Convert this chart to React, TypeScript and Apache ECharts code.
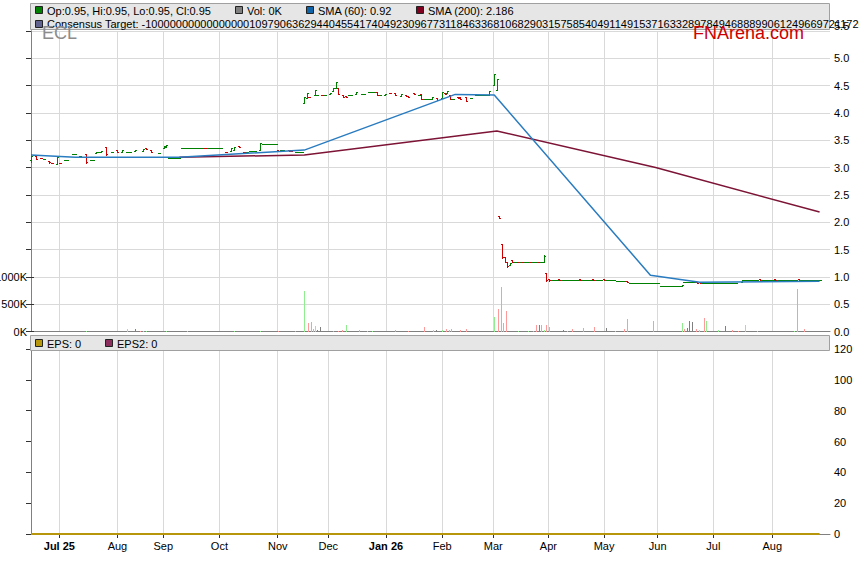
import React, { useEffect, useRef } from "react";
import * as echarts from "echarts";

const FONT = '"Liberation Sans", Arial, Helvetica, sans-serif';
const UP = "#008000";
const DOWN = "#d00000";
const GRID = "#d9d9d9";
const AXIS = "#808080";

// x positions are day indices along the chart (0 = first bar)
const X_MAX = 307;
const monthTickIdx = [10.9, 33.2, 50.8, 72.4, 94.8, 114.2, 136.4, 158.0, 177.6, 198.8, 220.2, 240.8, 262.2, 284.8];
const monthLabels = ["Jul 25", "Aug", "Sep", "Oct", "Nov", "Dec", "Jan 26", "Feb", "Mar", "Apr", "May", "Jun", "Jul", "Aug"];

const priceMax = 5.5;
const priceStep = 0.5;
const volTicksK = [0, 500, 1000];
const volMaxK = 5500;
const epsMax = 120;
const epsStep = 20;

// [dayIndex, open, close, low, high]
const priceBars: number[][] = [
  [0, 3.13, 3.22, 3.11, 3.24], [1, 3.23, 3.23, 3.23, 3.23], [2, 3.21, 3.16, 3.15, 3.21],
  [4, 3.18, 3.17, 3.17, 3.18], [5, 3.15, 3.15, 3.15, 3.15], [7, 3.12, 3.1, 3.09, 3.12],
  [8, 3.09, 3.08, 3.08, 3.09], [10, 3.07, 3.19, 3.06, 3.19], [11, 3.09, 3.08, 3.08, 3.09],
  [13, 3.13, 3.13, 3.13, 3.13], [14, 3.13, 3.13, 3.13, 3.13], [16, 3.24, 3.24, 3.24, 3.24],
  [17, 3.24, 3.24, 3.24, 3.24], [19, 3.21, 3.21, 3.21, 3.21], [21, 3.24, 3.1, 3.08, 3.24],
  [23, 3.14, 3.14, 3.14, 3.14], [24, 3.14, 3.14, 3.14, 3.14], [25, 3.27, 3.28, 3.27, 3.28],
  [26, 3.28, 3.28, 3.28, 3.28], [27, 3.28, 3.31, 3.28, 3.31], [29, 3.37, 3.24, 3.23, 3.37],
  [31, 3.28, 3.28, 3.28, 3.28], [33, 3.32, 3.28, 3.28, 3.32], [35, 3.28, 3.32, 3.28, 3.32],
  [37, 3.29, 3.29, 3.29, 3.29], [38, 3.29, 3.29, 3.29, 3.29], [40, 3.3, 3.32, 3.3, 3.32],
  [43, 3.31, 3.34, 3.31, 3.34], [44, 3.36, 3.34, 3.34, 3.36], [46, 3.33, 3.29, 3.29, 3.33],
  [49, 3.26, 3.26, 3.26, 3.26], [51, 3.36, 3.39, 3.36, 3.39], [52, 3.38, 3.41, 3.38, 3.41],
  [67, 3.36, 3.35, 3.35, 3.36], [75, 3.29, 3.28, 3.28, 3.29], [77, 3.3, 3.35, 3.3, 3.35],
  [78, 3.33, 3.37, 3.33, 3.37], [80, 3.39, 3.38, 3.38, 3.39], [82, 3.29, 3.28, 3.28, 3.29],
  [83, 3.28, 3.28, 3.28, 3.28], [88, 3.32, 3.45, 3.32, 3.45], [95, 3.33, 3.31, 3.31, 3.33],
  [99, 3.33, 3.3, 3.3, 3.33], [100, 3.32, 3.31, 3.31, 3.32],
  [105, 4.18, 4.29, 4.18, 4.29], [106, 4.27, 4.36, 4.27, 4.36], [107, 4.3, 4.29, 4.29, 4.3],
  [109, 4.33, 4.42, 4.33, 4.42], [110, 4.32, 4.32, 4.32, 4.32], [112, 4.33, 4.32, 4.32, 4.33],
  [113, 4.32, 4.32, 4.32, 4.32], [115, 4.34, 4.37, 4.34, 4.37], [116, 4.4, 4.45, 4.4, 4.45],
  [117, 4.45, 4.56, 4.45, 4.56], [118, 4.45, 4.34, 4.34, 4.45], [120, 4.32, 4.3, 4.3, 4.32],
  [121, 4.31, 4.3, 4.3, 4.31], [125, 4.35, 4.38, 4.35, 4.38], [127, 4.35, 4.35, 4.35, 4.35],
  [128, 4.35, 4.35, 4.35, 4.35], [133, 4.38, 4.33, 4.33, 4.38], [134, 4.33, 4.33, 4.33, 4.33],
  [136, 4.33, 4.35, 4.33, 4.35], [138, 4.37, 4.36, 4.36, 4.37], [140, 4.36, 4.33, 4.33, 4.36],
  [142, 4.31, 4.35, 4.31, 4.35], [144, 4.33, 4.31, 4.31, 4.33], [145, 4.31, 4.29, 4.29, 4.31],
  [147, 4.36, 4.35, 4.35, 4.36], [149, 4.33, 4.33, 4.33, 4.33], [150, 4.35, 4.25, 4.25, 4.35],
  [154, 4.25, 4.3, 4.25, 4.3], [156, 4.27, 4.23, 4.23, 4.27], [158, 4.28, 4.38, 4.27, 4.38],
  [159, 4.36, 4.35, 4.35, 4.36], [160, 4.36, 4.4, 4.36, 4.4], [161, 4.33, 4.25, 4.25, 4.33],
  [162, 4.25, 4.25, 4.25, 4.25], [164, 4.29, 4.28, 4.28, 4.29], [165, 4.3, 4.26, 4.26, 4.3],
  [167, 4.29, 4.22, 4.22, 4.29], [169, 4.27, 4.27, 4.27, 4.27], [176, 4.33, 4.4, 4.33, 4.4],
  [178, 4.51, 4.71, 4.51, 4.71], [179, 4.42, 4.62, 4.42, 4.62],
  [180, 2.11, 2.08, 2.08, 2.11], [181, 1.6, 1.36, 1.34, 1.6], [182, 1.36, 1.28, 1.27, 1.36],
  [183, 1.28, 1.2, 1.18, 1.28], [184, 1.22, 1.26, 1.22, 1.26], [185, 1.3, 1.28, 1.28, 1.3],
  [186, 1.27, 1.27, 1.27, 1.27], [187, 1.28, 1.27, 1.27, 1.28], [188, 1.27, 1.27, 1.27, 1.27],
  [189, 1.28, 1.27, 1.27, 1.28], [190, 1.27, 1.27, 1.27, 1.27], [191, 1.27, 1.27, 1.27, 1.27],
  [192, 1.28, 1.27, 1.27, 1.28], [193, 1.27, 1.27, 1.27, 1.27], [194, 1.27, 1.27, 1.27, 1.27],
  [195, 1.28, 1.27, 1.27, 1.28], [196, 1.27, 1.27, 1.27, 1.27], [197, 1.27, 1.39, 1.27, 1.4],
  [198, 1.07, 0.95, 0.92, 1.07], [199, 0.97, 0.94, 0.93, 0.97],
  [203, 0.96, 0.95, 0.95, 0.96], [211, 0.96, 0.95, 0.95, 0.96], [216, 0.96, 0.95, 0.95, 0.96],
  [220, 0.96, 0.95, 0.95, 0.96], [229, 0.93, 0.91, 0.91, 0.93], [250, 0.83, 0.86, 0.83, 0.86],
  [256, 0.9, 0.89, 0.89, 0.9], [257, 0.9, 0.89, 0.89, 0.9], [273, 0.9, 0.94, 0.9, 0.94],
  [280, 0.96, 0.95, 0.95, 0.96], [286, 0.96, 0.95, 0.95, 0.96], [295, 0.96, 0.95, 0.95, 0.96],
];

// stretches of unchanged price: [firstDay, lastDay, price]
const flatRuns: number[][] = [
  [53, 57, 3.17], [58, 66, 3.35], [68, 73, 3.35], [84, 86, 3.3], [89, 94, 3.43],
  [96, 97, 3.33], [102, 104, 3.29], [122, 123, 4.33], [130, 132, 4.39], [151, 153, 4.25],
  [171, 175, 4.33], [200, 202, 0.95], [204, 210, 0.95], [212, 215, 0.95], [217, 219, 0.95],
  [221, 224, 0.95], [225, 228, 0.93], [230, 241, 0.88], [242, 249, 0.83], [251, 255, 0.9],
  [258, 271, 0.89], [274, 279, 0.95], [281, 285, 0.95], [287, 294, 0.95], [296, 303, 0.95],
];

// [dayIndex, volume in K]
const volUp: number[][] = [
  [21, 15], [37, 50], [43, 15], [44, 15], [52, 15], [60, 15], [78, 15], [88, 15],
  [105, 750], [109, 100], [121, 110], [129, 15], [131, 15], [154.5, 30], [158, 30],
  [178, 257], [187, 10], [191, 10], [197, 20], [206, 10], [224.5, 10], [250, 160],
  [256.5, 20], [259.5, 200], [264, 30], [274.5, 110], [279, 10], [293, 10],
];
const volDown: number[][] = [
  [42, 15], [95, 15], [101.5, 15], [106.5, 150], [107.5, 180], [108.5, 40], [116, 15],
  [118, 15], [119.5, 30], [126, 30], [140, 30], [145, 15], [151, 90], [159.5, 40],
  [160.5, 30], [161.5, 40], [165, 20], [167, 40], [179.5, 420], [180.5, 810], [181.5, 160],
  [182.5, 370], [193, 15], [194, 110], [196, 110], [198, 110], [199, 80], [208, 50],
  [212, 60], [216.5, 80], [228, 50], [229, 220], [239, 190], [251, 50], [255.5, 50],
  [258.5, 250], [269.5, 30], [271.5, 15], [294.5, 770], [297, 40],
];
const volFlat: number[][] = [
  [38, 15], [40, 40], [110, 20], [111, 90], [115, 15], [124, 15], [139, 15], [155.5, 30],
  [188.5, 10], [195, 110], [203.5, 10], [204.5, 20], [217.5, 15], [221, 60], [240.5, 15],
  [247.5, 15], [252, 70], [253, 200], [254, 170], [261, 15], [266.5, 100], [267.5, 15],
  [276.5, 15], [277.5, 15], [283, 10],
];

// moving-average vertices [dayIndex, value]
const sma60: number[][] = [
  [0, 3.23], [17, 3.19], [57, 3.19], [105, 3.32], [163, 4.34], [178, 4.33], [238, 1.03], [257, 0.9], [303, 0.92],
];
const sma200: number[][] = [
  [57, 3.19], [105, 3.23], [179, 3.67], [240, 3.0], [303, 2.186],
];
const eps: number[][] = [[0, 0], [303, 0]];

const legendRow1 = [
  { color: "#008000", text: "Op:0.95, Hi:0.95, Lo:0.95, Cl:0.95", x: 35 },
  { color: "#808080", text: "Vol: 0K", x: 235 },
  { color: "#0f64a8", text: "SMA (60): 0.92", x: 306 },
  { color: "#800020", text: "SMA (200): 2.186", x: 416 },
];
const consensusText =
  "Consensus Target: -10000000000000000109790636294404554174049230967731184633681068290315758540491149153716332897849468889906124966972117265";
const legendEps = [
  { color: "#b8960b", text: "EPS: 0", x: 35 },
  { color: "#8b2e5e", text: "EPS2: 0", x: 105 },
];

function buildOhlc(): number[][] {
  const out: number[][] = priceBars.map((b) => b.slice());
  flatRuns.forEach(([s, e, p]) => {
    for (let d = s; d <= e; d++) out.push([d, p, p, p, p]);
  });
  out.sort((a, b) => a[0] - b[0]);
  return out;
}

function ohlcItem(_params: any, api: any) {
  const x = api.value(0);
  const o = api.value(1);
  const c = api.value(2);
  const l = api.value(3);
  const h = api.value(4);
  const po = api.coord([x, o]);
  const px = Math.round(po[0]);
  const yo = Math.round(po[1]);
  const yc = Math.round(api.coord([x, c])[1]);
  const yl = Math.round(api.coord([x, l])[1]);
  const yh = Math.round(api.coord([x, h])[1]);
  const fill = c >= o ? UP : DOWN;
  return {
    type: "group",
    children: [
      { type: "rect", shape: { x: px, y: yh, width: 1, height: Math.max(1, yl - yh + 1) }, style: { fill } },
      { type: "rect", shape: { x: px - 1, y: yo, width: 1, height: 1 }, style: { fill } },
      { type: "rect", shape: { x: px + 1, y: yc, width: 1, height: 1 }, style: { fill } },
    ],
  };
}

function volRenderer(color: string) {
  return (_params: any, api: any) => {
    const x = api.value(0);
    const v = api.value(1);
    const p0 = api.coord([x, 0]);
    const p1 = api.coord([x, v]);
    const px = Math.round(p0[0]);
    const y0 = Math.round(p0[1]);
    const y1 = Math.round(p1[1]);
    return { type: "rect", shape: { x: px, y: y1, width: 1, height: Math.max(1, y0 - y1) }, style: { fill: color } };
  };
}

function buildOption() {
  const labelStyle = { fontFamily: FONT, fontSize: 11, color: "#000" };
  const graphics: any[] = [
    {
      type: "rect", z: 50, silent: true,
      shape: { x: 30.5, y: 3.5, width: 799, height: 26 },
      style: { fill: "#e6e6e6", stroke: "#a0a0a0", lineWidth: 1 },
    },
    {
      type: "rect", z: 50, silent: true,
      shape: { x: 30.5, y: 335.5, width: 799, height: 15 },
      style: { fill: "#e6e6e6", stroke: "#a0a0a0", lineWidth: 1 },
    },
  ];
  legendRow1.forEach((it) => {
    graphics.push({
      type: "rect", z: 51, shape: { x: it.x + 0.5, y: 6.5, width: 7, height: 7 },
      style: { fill: it.color, stroke: "#222", lineWidth: 1 },
    });
    graphics.push({
      type: "text", z: 51, x: it.x + 12, y: 10.5,
      style: { text: it.text, fontFamily: FONT, fontSize: 11, fill: "#000", verticalAlign: "middle" },
    });
  });
  graphics.push({
    type: "rect", z: 51, shape: { x: 35.5, y: 20.5, width: 7, height: 7 },
    style: { fill: "#62628f", stroke: "#222", lineWidth: 1 },
  });
  graphics.push({
    type: "text", z: 51, x: 47, y: 24,
    style: { text: consensusText, fontFamily: FONT, fontSize: 11, fill: "#000", verticalAlign: "middle" },
  });
  legendEps.forEach((it) => {
    graphics.push({
      type: "rect", z: 51, shape: { x: it.x + 0.5, y: 339.5, width: 7, height: 7 },
      style: { fill: it.color, stroke: "#222", lineWidth: 1 },
    });
    graphics.push({
      type: "text", z: 51, x: it.x + 12, y: 343.5,
      style: { text: it.text, fontFamily: FONT, fontSize: 11, fill: "#000", verticalAlign: "middle" },
    });
  });
  graphics.push({
    type: "text", z: 52, x: 42, y: 33,
    style: { text: "ECL", fontFamily: FONT, fontSize: 18, fill: "#8c8c8c", verticalAlign: "middle" },
  });
  graphics.push({
    type: "text", z: 52, x: 693, y: 33,
    style: { text: "FNArena.com", fontFamily: FONT, fontSize: 18, fill: "#cc0000", verticalAlign: "middle" },
  });

  const monthFormatter = (v: number) => {
    const i = monthTickIdx.findIndex((m) => Math.abs(m - v) < 1e-6);
    const s = i >= 0 ? monthLabels[i] : "";
    return s.indexOf(" ") >= 0 ? `{b|${s}}` : s;
  };

  return {
    animation: false,
    backgroundColor: "#ffffff",
    grid: [
      { left: 31, right: 29, top: 31, height: 300.5, containLabel: false, outerBoundsMode: "none" },
      { left: 31, right: 29, top: 349, height: 185, containLabel: false, outerBoundsMode: "none" },
    ],
    xAxis: [
      {
        type: "value", gridIndex: 0, min: 0, max: X_MAX,
        axisLine: { show: true, onZero: false, lineStyle: { color: AXIS } },
        axisTick: { show: false, customValues: monthTickIdx },
        axisLabel: { show: false, customValues: monthTickIdx },
        splitLine: { show: true, lineStyle: { color: GRID, width: 1 } },
      },
      {
        type: "value", gridIndex: 1, min: 0, max: X_MAX,
        axisLine: { show: true, onZero: false, lineStyle: { color: AXIS } },
        axisTick: { show: true, length: 4, customValues: monthTickIdx, lineStyle: { color: "#333" } },
        axisLabel: {
          ...labelStyle, margin: 6, customValues: monthTickIdx, formatter: monthFormatter,
          rich: { b: { fontFamily: FONT, fontSize: 11, fontWeight: "bold", color: "#000" } },
        },
        splitLine: { show: true, lineStyle: { color: GRID, width: 1 } },
      },
    ],
    yAxis: [
      {
        type: "value", gridIndex: 0, position: "right", min: 0, max: priceMax, interval: priceStep,
        axisLine: { show: true, lineStyle: { color: AXIS } },
        axisTick: { show: true, inside: true, length: 5, lineStyle: { color: "#333" } },
        axisLabel: { ...labelStyle, margin: 4, formatter: (v: number) => v.toFixed(1), verticalAlignMaxLabel: "bottom" },
        splitLine: { show: true, lineStyle: { color: GRID, width: 1 } },
      },
      {
        type: "value", gridIndex: 0, position: "left", min: 0, max: volMaxK,
        axisLine: { show: true, lineStyle: { color: AXIS } },
        axisTick: { show: true, inside: true, length: 3, customValues: volTicksK, lineStyle: { color: "#333" } },
        axisLabel: { ...labelStyle, margin: 4, customValues: volTicksK, formatter: (v: number) => `${v}K` },
        splitLine: { show: false },
      },
      {
        type: "value", gridIndex: 1, position: "right", min: 0, max: epsMax, interval: epsStep,
        axisLine: { show: true, lineStyle: { color: AXIS } },
        axisTick: { show: true, inside: true, length: 5, lineStyle: { color: "#333" } },
        axisLabel: { ...labelStyle, margin: 4 },
        splitLine: { show: false },
      },
      {
        type: "value", gridIndex: 1, position: "left", min: 0, max: epsMax,
        axisLine: { show: true, lineStyle: { color: AXIS } },
        axisTick: { show: false }, axisLabel: { show: false }, splitLine: { show: false },
      },
    ],
    series: [
      { type: "custom", name: "VolUp", xAxisIndex: 0, yAxisIndex: 1, data: volUp, renderItem: volRenderer("#90ee90"), encode: { x: 0, y: 1 }, z: 2 },
      { type: "custom", name: "VolDown", xAxisIndex: 0, yAxisIndex: 1, data: volDown, renderItem: volRenderer("#ff9a9a"), encode: { x: 0, y: 1 }, z: 2 },
      { type: "custom", name: "VolFlat", xAxisIndex: 0, yAxisIndex: 1, data: volFlat, renderItem: volRenderer("#808080"), encode: { x: 0, y: 1 }, z: 2 },
      { type: "custom", name: "Price", xAxisIndex: 0, yAxisIndex: 0, data: buildOhlc(), renderItem: ohlcItem, encode: { x: 0, y: [1, 2, 3, 4] }, z: 3 },
      {
        type: "line", name: "SMA (200)", xAxisIndex: 0, yAxisIndex: 0, data: sma200, symbol: "none",
        lineStyle: { color: "#7d1436", width: 1.5 }, z: 4,
      },
      {
        type: "line", name: "SMA (60)", xAxisIndex: 0, yAxisIndex: 0, data: sma60, symbol: "none",
        lineStyle: { color: "#2a7cc0", width: 1.5 }, z: 5,
      },
      {
        type: "line", name: "EPS", xAxisIndex: 1, yAxisIndex: 2, data: eps, symbol: "none", clip: false,
        lineStyle: { color: "#b8960b", width: 2 }, z: 6,
      },
    ],
    graphic: { elements: graphics },
  };
}

export default function App() {
  const ref = useRef<HTMLDivElement>(null);
  useEffect(() => {
    if (!ref.current) return;
    const chart = echarts.init(ref.current, null, { renderer: "svg" });
    chart.setOption(buildOption() as any);
    return () => chart.dispose();
  }, []);
  return (
    <div
      ref={ref}
      style={{ position: "fixed", left: 0, top: 0, width: 859, height: 566, background: "#fff" }}
    />
  );
}
